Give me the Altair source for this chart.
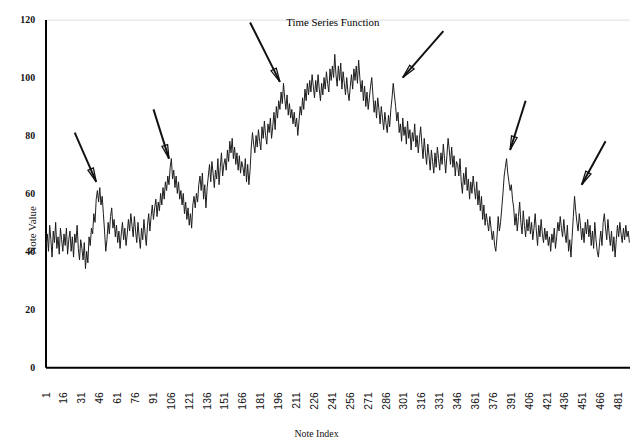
import math
import altair as alt
import pandas as pd

# ---- data (note values for note index 1..490) ----
values_part1 = [
    42, 46, 40, 49, 44, 38, 47, 43, 50, 41, 45, 39, 48, 44, 40,
    46, 42, 48, 39, 44, 47, 40, 45, 38, 46, 43, 49, 41, 37, 44,
    41, 37, 43, 34, 40, 36, 45, 42, 48, 46, 53, 50, 58, 61, 57,
    62, 56, 59, 53, 47, 40, 44, 50, 46, 52, 55, 48, 51, 45, 49,
    43, 47, 41, 46, 50, 44, 48, 42, 46, 51, 47, 53, 49, 45, 52,
    47, 43, 50, 45, 41, 48, 44, 51, 46, 42, 49, 53, 47, 52, 56,
    51, 55, 58, 52, 57, 54, 60, 56, 62, 58, 64, 61, 66, 63, 69,
    72, 65, 68, 62, 66, 60, 64, 58, 61, 56, 60, 53, 57, 51, 55,
]
values_part2 = [
    49, 53, 48, 56, 59, 55, 60, 57, 63, 66, 61, 67, 58, 63, 55,
    62, 66, 70, 64, 71, 67, 62, 68, 65, 72, 63, 69, 74, 66, 70,
    72, 68, 75, 71, 78, 74, 79, 72, 76, 70, 74, 68, 73, 67, 71,
    69, 66, 72, 64, 70, 63, 68, 76, 81, 77, 74, 80, 76, 82, 78,
    75, 83, 79, 85, 80, 77, 84, 81, 86, 79, 83, 88, 82, 90, 86,
    92, 89, 95, 91, 98, 93, 89, 94, 87, 91, 86, 89, 84, 88, 83,
    86, 80, 85, 90, 87, 93, 89, 96, 92, 98, 94, 99, 95, 101, 97,
    93, 99, 95, 101, 96, 92, 98, 94, 100, 96, 102, 98, 95, 103, 99,
]
values_part3 = [
    104, 100, 108, 101, 97, 104, 99, 105, 96, 102, 98, 94, 100, 95, 92,
    97, 101, 96, 103, 99, 104, 98, 106, 100, 95, 99, 92, 97, 90, 95,
    89, 93, 97, 100, 94, 88, 92, 86, 93, 89, 84, 90, 86, 82, 88,
    84, 81, 87, 83, 89, 93, 98, 94, 90, 85, 88, 81, 84, 78, 86,
    80, 83, 77, 85, 79, 82, 75, 81, 78, 84, 76, 80, 74, 79, 83,
    77, 72, 79, 74, 70, 77, 73, 68, 75, 71, 67, 74, 69, 76, 72,
    68, 74, 70, 77, 72, 67, 73, 79, 75, 70, 76, 69, 73, 66, 71,
    70, 66, 72, 64, 60, 67, 63, 69, 61, 65, 58, 64, 60, 66, 62,
]
values_part4 = [
    58, 64, 56, 61, 54, 59, 51, 56, 49, 53, 50, 47, 52, 48, 44,
    47, 42, 40, 45, 52, 47, 50, 55, 60, 66, 69, 72, 67, 64, 61,
    63, 58, 55, 49, 53, 47, 52, 57, 50, 46, 54, 49, 45, 51, 47,
    52, 46, 50, 44, 48, 53, 47, 42, 49, 45, 51, 46, 43, 48, 44,
    47, 42, 45, 40, 46, 43, 48, 41, 45, 50, 47, 52, 48, 45, 51,
    46, 43, 49, 40, 44, 38, 45, 52, 59, 54, 50, 47, 53, 49, 44,
    48, 43, 50, 46, 51, 45, 49, 42, 47, 41, 50, 44, 40, 38, 43,
    47, 42, 50, 53, 48, 44, 51, 46, 42, 47, 40, 45, 38, 44, 49,
    45, 50, 46, 43, 48, 44, 49, 45, 47, 43,
]

x_tick_labels = [1, 16, 31, 46, 61, 76, 91, 106, 121, 136, 151, 166, 181, 196,
                 211, 226, 241, 256, 271, 286, 301, 316, 331, 346, 361, 376,
                 391, 406, 421, 436, 451, 466, 481]
y_tick_labels = [0, 20, 40, 60, 80, 100, 120]

# annotation arrows (data units): start -> tip
arrow_x_start = [25, 91, 172, 334, 403, 470]
arrow_y_start = [81, 89, 119, 116, 92, 78]
arrow_x_end = [43, 104, 197, 300, 390, 450]
arrow_y_end = [64, 72, 98.5, 100, 75, 63]

# ---- build tables ----
values = values_part1 + values_part2 + values_part3 + values_part4
series = pd.DataFrame({"x": list(range(1, len(values) + 1)), "y": values})

W, H = 592, 352
X_DOMAIN = [0.5, 490.5]
Y_DOMAIN = [0, 120]
px_x = W / (X_DOMAIN[1] - X_DOMAIN[0])
px_y = H / (Y_DOMAIN[1] - Y_DOMAIN[0])
HEAD_HALF = 7

arrows = pd.DataFrame({"x": arrow_x_start, "y": arrow_y_start,
                       "x2": arrow_x_end, "y2": arrow_y_end})
heads = []
for xs_, ys_, xe, ye in zip(arrow_x_start, arrow_y_start, arrow_x_end, arrow_y_end):
    dxp = (xe - xs_) * px_x
    dyp = -(ye - ys_) * px_y
    L = math.hypot(dxp, dyp)
    ux, uy = dxp / L, dyp / L
    ang = math.degrees(math.atan2(dxp, -dyp)) % 360
    heads.append({"x": xe - HEAD_HALF * ux / px_x,
                  "y": ye + HEAD_HALF * uy / px_y,
                  "angle": ang})
heads = pd.DataFrame(heads)

x_axis = alt.Axis(values=x_tick_labels, labelAngle=-90, grid=False, ticks=False,
                  labelPadding=25, labelFont="Liberation Sans", labelFontSize=10.5,
                  labelColor="#111", domainColor="#000", domainWidth=2,
                  title="Note Index", titleFont="Liberation Serif", titleFontSize=10,
                  titleFontWeight="normal", titleX=274, titleY=67,
                  titleBaseline="middle", titleColor="#111")
y_axis = alt.Axis(values=y_tick_labels, grid=False, ticks=False, labelPadding=11,
                  labelFont="Liberation Serif", labelFontSize=10, labelColor="#111",
                  labelFontWeight="bold",
                  domainColor="#000", domainWidth=2,
                  title="Note Value", titleFont="Liberation Serif", titleFontSize=11,
                  titleFontWeight="normal", titleX=-13, titleY=213, titleAngle=-90,
                  titleAlign="center", titleBaseline="middle", titleColor="#111")

xs = alt.Scale(domain=X_DOMAIN, nice=False, zero=False)
ys = alt.Scale(domain=Y_DOMAIN, nice=False)

line = alt.Chart(series).mark_line(color="#1a1a1a", strokeWidth=1).encode(
    x=alt.X("x:Q", scale=xs, axis=x_axis),
    y=alt.Y("y:Q", scale=ys, axis=y_axis),
)

rules = alt.Chart(arrows).mark_rule(color="#111", strokeWidth=2).encode(
    x=alt.X("x:Q", scale=xs, axis=x_axis),
    y=alt.Y("y:Q", scale=ys, axis=y_axis),
    x2="x2:Q",
    y2="y2:Q",
)

tips = alt.Chart(heads).mark_point(
    shape="M0,-1L0.42,1L-0.42,1Z", filled=False, color="#111",
    strokeWidth=1.3, size=200, opacity=1,
).encode(
    x=alt.X("x:Q", scale=xs, axis=x_axis),
    y=alt.Y("y:Q", scale=ys, axis=y_axis),
    angle=alt.Angle("angle:Q", scale=None),
)

chart = alt.layer(line, rules, tips).properties(
    width=W, height=H,
    autosize=alt.AutoSizeParams(type="none"),
    padding={"left": 38, "top": 9, "right": 0, "bottom": 70},
    title=alt.TitleParams("Time Series Function", font="Liberation Serif",
                          fontSize=11, fontWeight="normal", anchor="middle",
                          dy=17, dx=-5, color="#000"),
).configure_view(stroke=None).configure(background="white")

chart.save("out.html", embed_options={"renderer": "svg", "actions": False})
